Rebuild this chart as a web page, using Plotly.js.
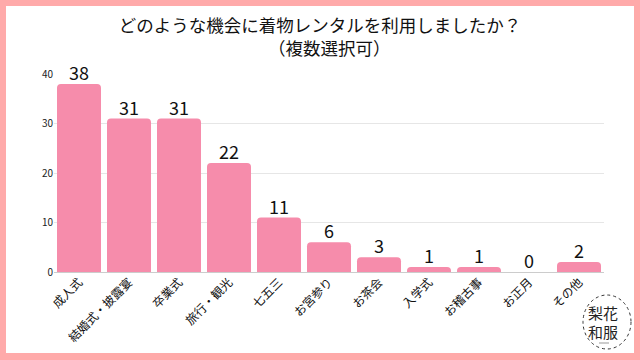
<!DOCTYPE html>
<html><head><meta charset="utf-8">
<script src="https://cdn.plot.ly/plotly-3.0.1.min.js"></script>
<style>
html,body{margin:0;padding:0;width:640px;height:360px;background:#ffaaaa;overflow:hidden;}
#c{position:absolute;left:6px;top:6px;width:628px;height:347px;background:#fff;}
</style></head>
<body><div id="c"></div>
<script>
const categories = ["成人式","結婚式・披露宴","卒業式","旅行・観光","七五三","お宮参り","お茶会","入学式","お稽古事","お正月","その他"];
const counts = [38,31,31,22,11,6,3,1,1,0,2];
const yTicks = [0,10,20,30,40];
const titleLine1 = "どのような機会に着物レンタルを利用しましたか？";
const titleLine2 = "（複数選択可）";
const logoTop = "梨花";
const logoBottom = "和服";

const font = "'Noto Sans CJK JP', 'Noto Sans', sans-serif";
const W = 628, H = 347, ml = 48, mr = 30, mt = 68, mb = 81;
const pw = W - ml - mr, ph = H - mt - mb;
// logo geometry in div pixels
const cx = 601, cy = 316, rx = 24, ry = 27;
const px = x => (x - ml) / pw;
const py = y => 1 - (y - mt) / ph;

const valueLabels = categories.map((c, i) => ({
  xref: 'x', yref: 'y', x: c, y: counts[i], text: String(counts[i]),
  showarrow: false, yanchor: 'bottom', yshift: -3,
  font: {family: font, size: 18, color: '#111'}
}));

Plotly.newPlot('c', [{
  type: 'bar',
  x: categories,
  y: counts,
  marker: {color: '#f68cab'},
  cliponaxis: false,
  hoverinfo: 'none'
}], {
  width: W, height: H,
  margin: {l: ml, r: mr, t: mt, b: mb},
  paper_bgcolor: '#fff', plot_bgcolor: '#fff',
  bargap: 0.12,
  barcornerradius: 4,
  showlegend: false,
  title: {text: titleLine1, font: {family: font, size: 17.5, color: '#111'},
          x: 0.5, xanchor: 'center', yref: 'container', y: 1 - 20/H, yanchor: 'middle'},
  xaxis: {tickangle: -45, tickfont: {family: font, size: 12, color: '#111'},
          showgrid: false, showline: false, ticks: '', fixedrange: true},
  yaxis: {range: [0, 40], tickvals: yTicks, tickfont: {family: font, size: 10, color: '#222'},
          gridcolor: '#e6e6e6', zeroline: true, zerolinecolor: '#cccccc', zerolinewidth: 1,
          ticks: '', showline: false, fixedrange: true},
  shapes: [
    {type: 'circle', xref: 'paper', yref: 'paper', x0: px(cx - rx), x1: px(cx + rx), y0: py(cy + ry), y1: py(cy - ry),
     line: {color: '#333', width: 1, dash: 'dot'}, fillcolor: 'rgba(255,255,255,0)'},
    {type: 'line', xref: 'paper', yref: 'paper', x0: px(cx - 8), x1: px(cx + 2), y0: py(cy + 21), y1: py(cy + 21),
     line: {color: '#999', width: 1}}
  ],
  annotations: [
    {xref: 'paper', yref: 'paper', x: 0.5, xanchor: 'center', y: py(41), yanchor: 'middle',
     text: titleLine2, showarrow: false, font: {family: font, size: 17.5, color: '#111'}},
    {xref: 'paper', yref: 'paper', x: px(cx - 4), y: py(cy - 10), text: logoTop, showarrow: false,
     font: {family: font, size: 15, color: '#222'}, xanchor: 'center', yanchor: 'middle'},
    {xref: 'paper', yref: 'paper', x: px(cx - 4), y: py(cy + 9), text: logoBottom, showarrow: false,
     font: {family: font, size: 15, color: '#222'}, xanchor: 'center', yanchor: 'middle'}
  ].concat(valueLabels)
}, {staticPlot: true});
</script></body></html>
